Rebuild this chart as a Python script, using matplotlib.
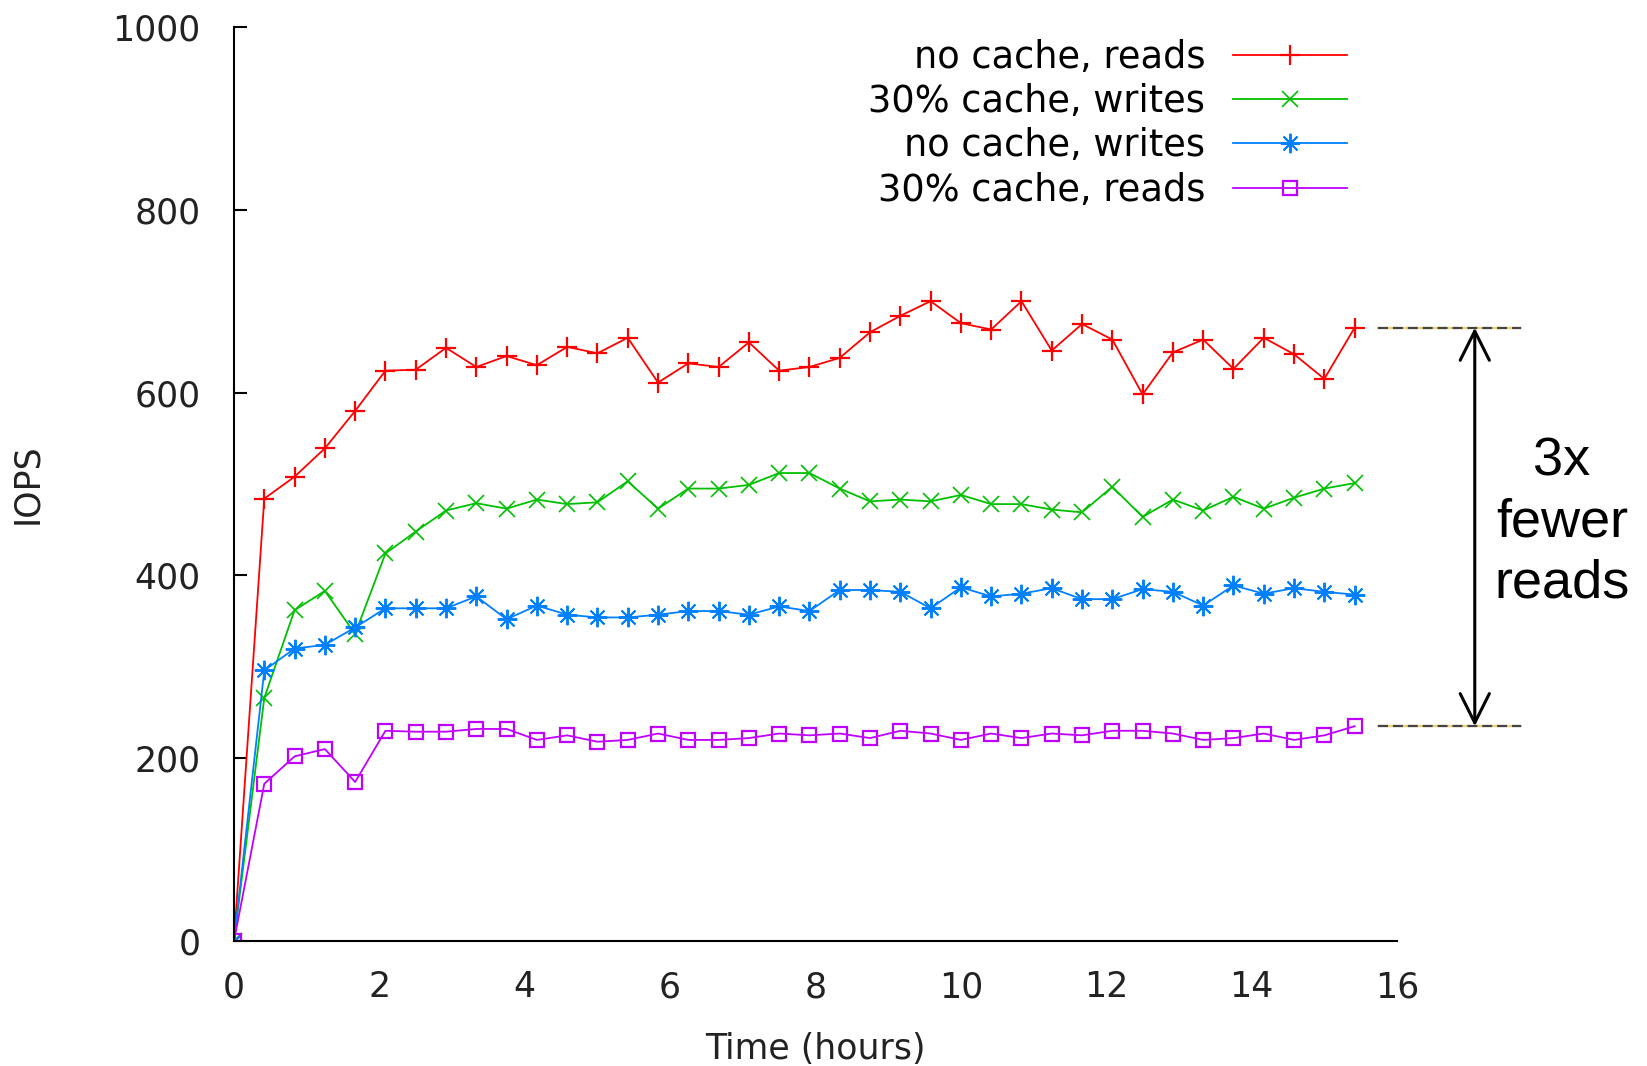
import numpy as np
import matplotlib.pyplot as plt

plt.rcParams['font.family'] = 'DejaVu Sans'

# samples every 25 minutes
step_min = 25
n_samples = 38
hours = np.arange(n_samples) * step_min / 60.0

nocache_reads = [0, 484, 508, 539, 580, 624, 625, 649, 628, 640, 630, 650, 643, 660, 611, 632,
                 628, 655, 624, 628, 638, 666, 684, 700, 676, 669, 700, 646, 675, 658, 598, 644,
                 658, 626, 660, 642, 615, 671]
cache_writes = [0, 266, 362, 383, 336, 424, 448, 471, 479, 473, 483, 478, 480, 503, 473, 495,
                495, 499, 512, 512, 495, 481, 483, 481, 488, 478, 478, 472, 469, 497, 464, 483,
                471, 486, 473, 485, 495, 501]
nocache_writes = [0, 296, 320, 324, 343, 364, 364, 364, 377, 352, 367, 357, 354, 354, 357, 361,
                  361, 357, 366, 361, 384, 384, 382, 364, 387, 377, 380, 386, 374, 374, 385, 382,
                  367, 389, 380, 386, 382, 379]
cache_reads = [0, 172, 202, 210, 174, 230, 229, 229, 232, 232, 220, 225, 218, 220, 227, 220,
               220, 222, 227, 225, 227, 222, 230, 227, 220, 227, 222, 227, 225, 230, 230, 227,
               220, 222, 227, 220, 225, 235]

labels = ['no cache, reads', '30% cache, writes', 'no cache, writes', '30% cache, reads']
note = '3x\nfewer\nreads'

W, H = 1647, 1066
fig = plt.figure(figsize=(W / 100, H / 100), dpi=100)
ax = fig.add_axes([234 / W, 1 - 941 / H, (1397 - 234) / W, (941 - 27) / H])

ax.plot(hours, nocache_reads, color='#ff0000', lw=1.3, marker='+', ms=15, mew=1.6, label=labels[0])
ax.plot(hours, cache_writes, color='#00c000', lw=1.3, marker='x', ms=12, mew=1.2, label=labels[1])
ax.plot(hours, nocache_writes, color='#0080ff', lw=1.3, marker=(8, 2, 0), ms=14, mew=1.4, label=labels[2])
ax.plot(hours, cache_reads, color='#c000ff', lw=1.3, marker='s', ms=10, mfc='none', mew=1.6, label=labels[3])

ax.set_xlim(0, 16)
ax.set_ylim(0, 1000)
ax.set_xticks(range(0, 17, 2))
ax.set_yticks(range(0, 1001, 200))
for s in ['top', 'right']:
    ax.spines[s].set_visible(False)
for s in ['left', 'bottom']:
    ax.spines[s].set_linewidth(1.5)
ax.tick_params(axis='y', direction='in', length=9, width=1.5, pad=24, labelsize=25, labelcolor='#222222')
ax.tick_params(axis='x', length=0, pad=21, labelsize=25, labelcolor='#222222')

ax.set_xlabel('Time (hours)', fontsize=25, color='#222222')
ax.xaxis.set_label_coords(0.5, -0.1)
ax.set_ylabel('IOPS', fontsize=25, color='#222222')
ax.yaxis.set_label_coords(-0.163, 0.5)

ax.legend(loc='upper right', bbox_to_anchor=(1347 / W, 1 - 39 / H), bbox_transform=fig.transFigure,
          frameon=False, markerfirst=False, fontsize=26.5, handlelength=3.1, handletextpad=0.75,
          labelspacing=0.195, borderpad=0, borderaxespad=0, numpoints=1)

# annotation: gap between uncached and cached reads at the end of the run
hi = nocache_reads[-1]
lo = cache_reads[-1]
for yv in (hi, lo):
    ax.plot([15.74, 17.7], [yv, yv], color='#f2cf72', lw=1.6, clip_on=False)
    ax.plot([15.74, 17.7], [yv, yv], color='#444444', lw=1.6, dashes=(4.5, 2.2), clip_on=False)
ax.annotate('', xy=(17.07, hi), xytext=(17.07, lo),
            arrowprops=dict(arrowstyle='<->,head_length=0.7,head_width=0.35', lw=2.2, color='black',
                            shrinkA=0, shrinkB=0, mutation_scale=30),
            annotation_clip=False)
ax.text(18.27, 458, note, ha='center', va='center', fontsize=39, family='Liberation Sans',
        linespacing=1.28, clip_on=False)

fig.savefig('out.png', dpi=100)
